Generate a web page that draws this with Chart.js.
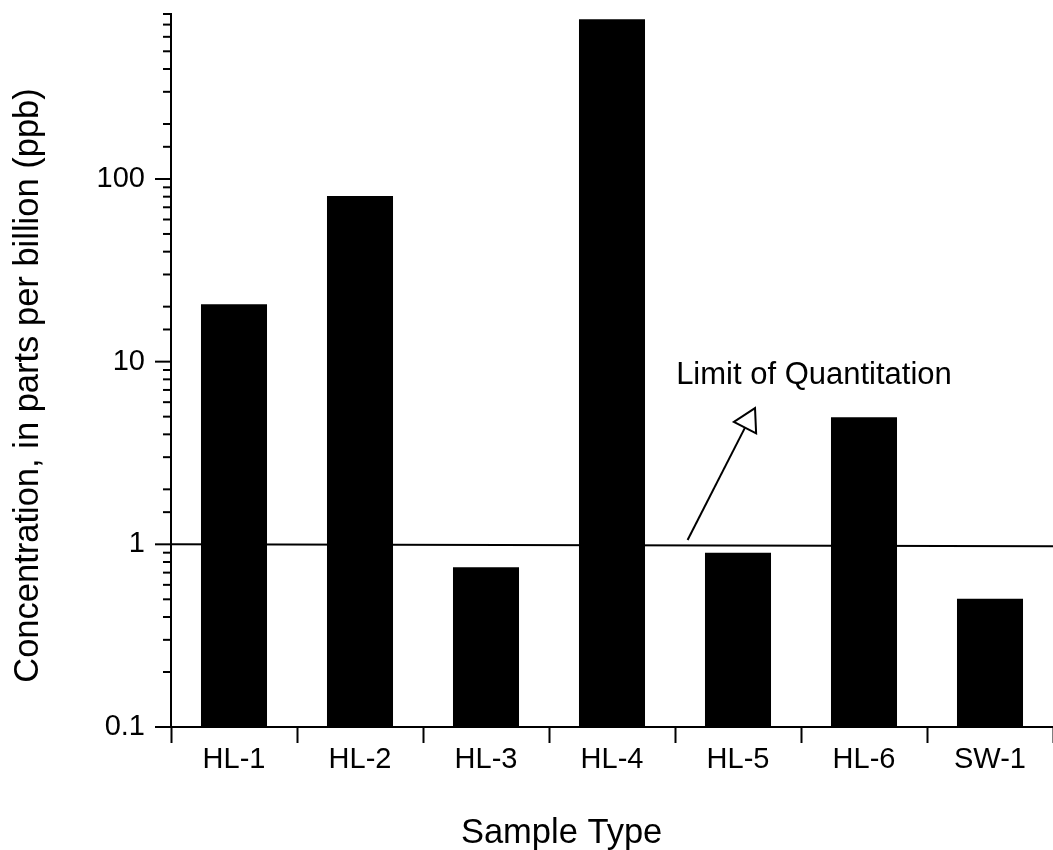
<!DOCTYPE html>
<html>
<head>
<meta charset="utf-8">
<script src="https://cdn.jsdelivr.net/npm/chart.js@4/dist/chart.umd.min.js"></script>
<style>
  html, body { margin: 0; padding: 0; background: #ffffff; }
  #wrap { width: 1053px; height: 850px; position: relative; }
</style>
</head>
<body>
<div id="wrap"><canvas id="c" width="1053" height="850"></canvas></div>
<script>
// ---- Data ----
const categories = ['HL-1', 'HL-2', 'HL-3', 'HL-4', 'HL-5', 'HL-6', 'SW-1'];
const concentrations = [20.6, 80.6, 0.75, 748, 0.90, 4.96, 0.503];
const yMin = 0.1;
const yMax = 800;
const labeledTicks = [0.1, 1, 10, 100];
const limitOfQuantitation = [1.0, 0.975]; // value at left edge, value at right edge
const loqLabel = 'Limit of Quantitation';
// annotation anchors in data coordinates (category index, value)
const arrowTail = [3.6, 1.056];
const arrowTip = [4.135, 5.57];
const loqLabelPos = [4.603, 8.45];
const xTitle = 'Sample Type';
const yTitle = 'Concentration, in parts per billion (ppb)';

const FONT = '"Liberation Sans", Arial, Helvetica, sans-serif';

const overlayPlugin = {
  id: 'overlay',
  afterDatasetsDraw(chart) {
    const ctx = chart.ctx;
    const xs = chart.scales.x, ys = chart.scales.y;
    const area = chart.chartArea;
    ctx.save();
    ctx.strokeStyle = '#000';
    ctx.fillStyle = '#000';
    ctx.lineWidth = 2;
    ctx.lineCap = 'butt';

    // LOQ line
    ctx.beginPath();
    ctx.moveTo(area.left, ys.getPixelForValue(limitOfQuantitation[0]));
    ctx.lineTo(area.right, ys.getPixelForValue(limitOfQuantitation[1]));
    ctx.stroke();

    // Arrow
    const tx = xs.getPixelForValue(arrowTail[0]), ty = ys.getPixelForValue(arrowTail[1]);
    const px = xs.getPixelForValue(arrowTip[0]), py = ys.getPixelForValue(arrowTip[1]);
    const dx = px - tx, dy = py - ty;
    const len = Math.hypot(dx, dy);
    const ux = dx / len, uy = dy / len;
    const headLen = 22, halfW = 12.5;
    const bx = px - ux * headLen, by = py - uy * headLen;
    ctx.beginPath();
    ctx.moveTo(tx, ty);
    ctx.lineTo(bx, by);
    ctx.stroke();
    ctx.beginPath();
    ctx.moveTo(px, py);
    ctx.lineTo(bx - uy * halfW, by + ux * halfW);
    ctx.lineTo(bx + uy * halfW, by - ux * halfW);
    ctx.closePath();
    ctx.fillStyle = '#fff';
    ctx.fill();
    ctx.stroke();

    // LOQ label
    ctx.fillStyle = '#000';
    ctx.font = '31px ' + FONT;
    ctx.textAlign = 'center';
    ctx.textBaseline = 'middle';
    ctx.fillText(loqLabel, xs.getPixelForValue(loqLabelPos[0]), ys.getPixelForValue(loqLabelPos[1]));

    // Y axis ticks (major long, minor short)
    ctx.lineWidth = 2;
    ys.ticks.forEach(t => {
      const y = ys.getPixelForValue(t.value);
      const lg = Math.log10(t.value);
      const major = Math.abs(lg - Math.round(lg)) < 1e-6;
      const L = major ? 16 : 8;
      ctx.beginPath();
      ctx.moveTo(area.left - L, y);
      ctx.lineTo(area.left, y);
      ctx.stroke();
    });

    // Y axis title
    ctx.save();
    ctx.translate(28, (area.top + area.bottom) / 2 + 15);
    ctx.rotate(-Math.PI / 2);
    ctx.font = '34.5px ' + FONT;
    ctx.textAlign = 'center';
    ctx.textBaseline = 'middle';
    ctx.fillText(yTitle, 0, 0);
    ctx.restore();

    // X axis title
    ctx.font = '34.5px ' + FONT;
    ctx.textAlign = 'center';
    ctx.textBaseline = 'middle';
    ctx.fillText(xTitle, xs.getPixelForValue(2.6), area.bottom + 106);

    ctx.restore();
  }
};

new Chart(document.getElementById('c'), {
  type: 'bar',
  data: {
    labels: categories,
    datasets: [{
      data: concentrations,
      backgroundColor: '#000',
      borderWidth: 0,
      barPercentage: 0.524,
      categoryPercentage: 1.0
    }]
  },
  options: {
    responsive: false,
    animation: false,
    devicePixelRatio: 1,
    layout: { padding: { top: 14, right: 0, left: 0, bottom: 0 } },
    plugins: {
      legend: { display: false },
      tooltip: { enabled: false },
      title: { display: false }
    },
    scales: {
      x: {
        type: 'category',
        offset: true,
        grid: {
          display: true,
          offset: true,
          drawOnChartArea: false,
          tickLength: 16,
          tickWidth: 2,
          tickColor: '#000'
        },
        border: { display: true, color: '#000', width: 2 },
        ticks: {
          color: '#000',
          font: { family: FONT, size: 29 },
          padding: 0,
          maxRotation: 0,
          autoSkip: false
        },
        title: { display: false },
        afterFit(scale) {
          scale.height = 123;
          scale.paddingLeft = 0; scale.paddingRight = 0;
        }
      },
      y: {
        type: 'logarithmic',
        min: yMin,
        max: yMax,
        grid: {
          display: true,
          drawOnChartArea: false,
          tickLength: 16,
          tickColor: 'rgba(0,0,0,0)'
        },
        border: { display: true, color: '#000', width: 2 },
        ticks: {
          color: '#000',
          font: { family: FONT, size: 29 },
          padding: 10,
          autoSkip: false,
          callback: (v) => labeledTicks.some(t => Math.abs(t - v) / t < 1e-6) ? String(v) : ''
        },
        title: { display: false },
        afterFit(scale) {
          scale.width = 171;
          scale.paddingTop = 0; scale.paddingBottom = 0;
        }
      }
    }
  },
  plugins: [overlayPlugin]
});
</script>
</body>
</html>
